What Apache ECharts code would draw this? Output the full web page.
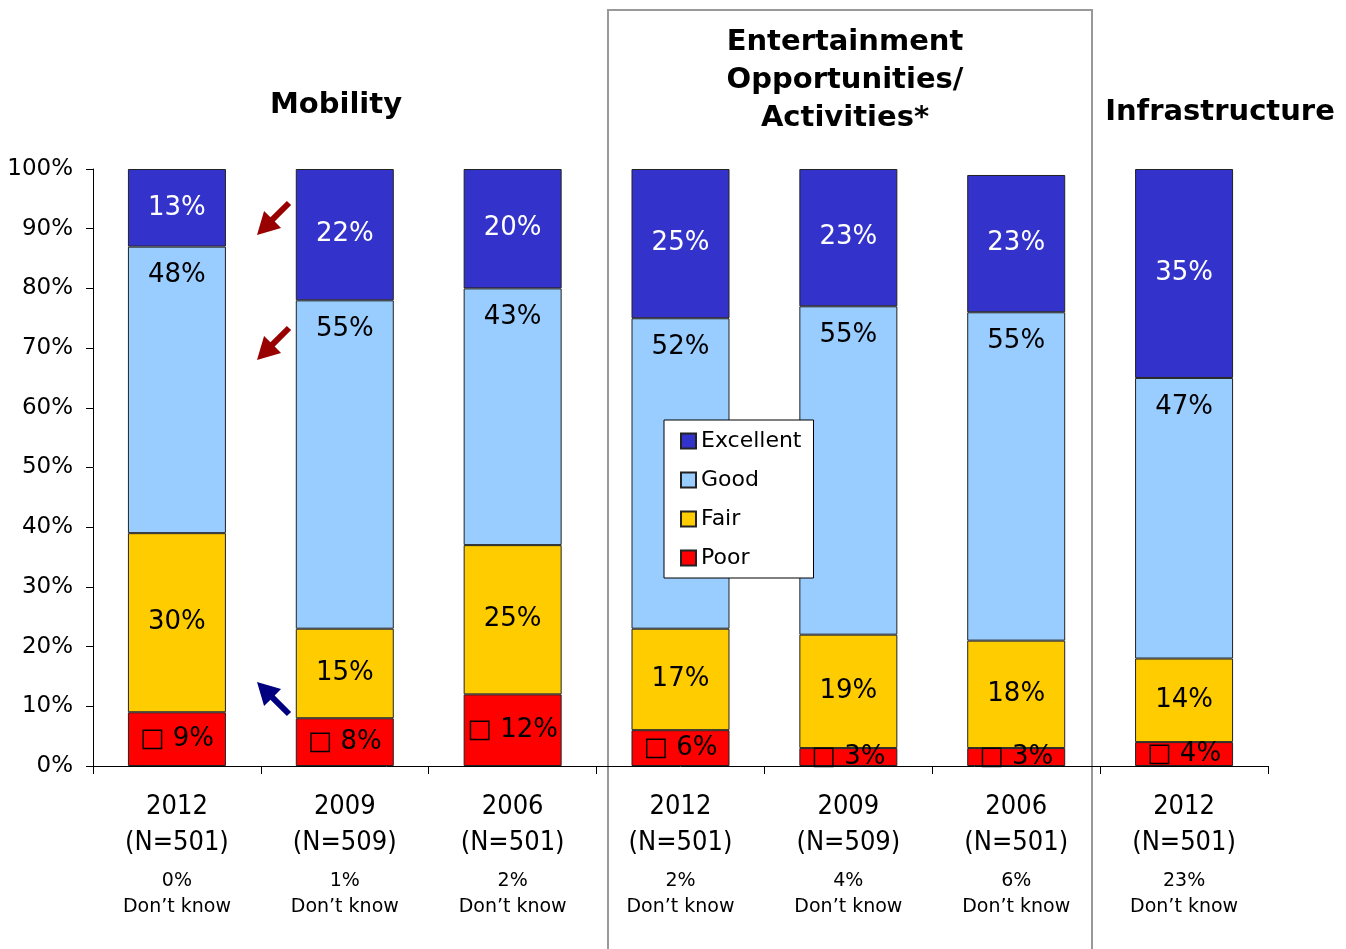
<!DOCTYPE html>
<html>
<head>
<meta charset="utf-8">
<title>Ratings</title>
<script src="https://cdn.jsdelivr.net/npm/echarts@6/dist/echarts.min.js"></script>
<style>
  html, body { margin: 0; padding: 0; background: #fff; }
  #main { width: 1346px; height: 949px; }
</style>
</head>
<body>
<div id="main"></div>
<script>
  // data
  var years = ['2012', '2009', '2006', '2012', '2009', '2006', '2012'];
  var sampleN = [501, 509, 501, 501, 509, 501, 501];
  var dontKnow = [0, 1, 2, 2, 4, 6, 23];
  var poor = [9, 8, 12, 6, 3, 3, 4];
  var fair = [30, 15, 25, 17, 19, 18, 14];
  var good = [48, 55, 43, 52, 55, 55, 47];
  var excellent = [13, 22, 20, 25, 23, 23, 35];
  var yTicks = [0, 10, 20, 30, 40, 50, 60, 70, 80, 90, 100];

  var FONT = '"DejaVu Sans", sans-serif';
  var FONT_NARROW = '"DejaVu Sans Condensed", "DejaVu Sans", sans-serif';

  // simple arrow polygon from tail to tip
  function arrow(tail, tip, color) {
    var dx = tip[0] - tail[0], dy = tip[1] - tail[1];
    var len = Math.sqrt(dx * dx + dy * dy);
    var ux = dx / len, uy = dy / len, px = -uy, py = ux;
    var headLen = 22, headW = 12, shaftW = 3;
    var bx = tip[0] - ux * headLen, by = tip[1] - uy * headLen;
    return {
      type: 'polygon',
      shape: {
        points: [
          [tail[0] + px * shaftW, tail[1] + py * shaftW],
          [bx + px * shaftW, by + py * shaftW],
          [bx + px * headW, by + py * headW],
          tip,
          [bx - px * headW, by - py * headW],
          [bx - px * shaftW, by - py * shaftW],
          [tail[0] - px * shaftW, tail[1] - py * shaftW]
        ]
      },
      style: { fill: color }
    };
  }

  function barSeries(name, values, color, labelColor, pos, fmt) {
    return {
      name: name,
      type: 'bar',
      stack: 'all',
      barWidth: 98,
      data: values,
      itemStyle: { color: color, borderColor: '#222', borderWidth: 1 },
      label: {
        show: true,
        position: pos,
        distance: 16,
        color: labelColor,
        fontFamily: FONT,
        fontSize: 26,
        formatter: fmt
      }
    };
  }

  var chart = echarts.init(document.getElementById('main'));

  var option = {
    animation: false,
    grid: { left: 93, right: 78, top: 169, bottom: 183 },
    legend: {
      data: ['Excellent', 'Good', 'Fair', 'Poor'],
      orient: 'vertical',
      left: 664,
      top: 420,
      padding: [8, 12, 7, 16],
      icon: 'rect',
      itemWidth: 15,
      itemHeight: 15,
      itemGap: 13,
      borderColor: '#000',
      borderWidth: 1,
      backgroundColor: '#fff',
      textStyle: { fontFamily: FONT, fontSize: 22, lineHeight: 26, color: '#000' }
    },
    xAxis: {
      type: 'category',
      data: years,
      axisLine: { lineStyle: { color: '#000' } },
      axisTick: { show: true, alignWithLabel: false, interval: 0, length: 8, lineStyle: { color: '#000' } },
      axisLabel: {
        margin: 23,
        interval: 0,
        color: '#000',
        formatter: function (v, i) {
          return '{a|' + v + '}\n{a|(N=' + sampleN[i] + ')}\n{s| }\n{b|' + dontKnow[i] + '%}\n{b|Don\u2019t know}';
        },
        rich: {
          a: { fontFamily: FONT_NARROW, fontSize: 27, lineHeight: 36, color: '#000' },
          s: { fontSize: 4, lineHeight: 7 },
          b: { fontFamily: FONT, fontSize: 19, lineHeight: 26, color: '#000' }
        }
      }
    },
    yAxis: {
      type: 'value',
      min: yTicks[0],
      max: yTicks[yTicks.length - 1],
      interval: 10,
      splitLine: { show: false },
      axisLine: { show: true, lineStyle: { color: '#000' } },
      axisTick: { show: true, length: 7, lineStyle: { color: '#000' } },
      axisLabel: { margin: 20, color: '#000', fontFamily: FONT, fontSize: 23, formatter: '{value}%' }
    },
    series: [
      barSeries('Poor', poor, '#ff0000', '#000', 'inside', function (p) { return '\u25A1 ' + p.value + '%'; }),
      barSeries('Fair', fair, '#ffcc00', '#000', 'inside', '{c}%'),
      barSeries('Good', good, '#99ccff', '#000', 'insideTop', '{c}%'),
      barSeries('Excellent', excellent, '#3333cc', '#fff', 'inside', '{c}%')
    ],
    graphic: [
      {
        type: 'rect',
        z: -1,
        shape: { x: 608, y: 10, width: 484, height: 960 },
        style: { fill: 'none', stroke: '#999', lineWidth: 2 }
      },
      {
        type: 'text', x: 336, y: 105,
        style: { text: 'Mobility', fontFamily: FONT, fontWeight: 'bold', fontSize: 29, fill: '#000', align: 'center', verticalAlign: 'middle' }
      },
      {
        type: 'text', x: 845, y: 80,
        style: {
          text: 'Entertainment\nOpportunities/\nActivities*', fontFamily: FONT, fontWeight: 'bold', fontSize: 29,
          lineHeight: 38, fill: '#000', align: 'center', verticalAlign: 'middle'
        }
      },
      {
        type: 'text', x: 1220, y: 112,
        style: { text: 'Infrastructure', fontFamily: FONT, fontWeight: 'bold', fontSize: 29, fill: '#000', align: 'center', verticalAlign: 'middle' }
      },
      arrow([289, 203], [257, 235], '#990000'),
      arrow([289, 328], [257, 360], '#990000'),
      arrow([289, 714], [257, 682], '#000080')
    ]
  };

  chart.setOption(option);
</script>
</body>
</html>
